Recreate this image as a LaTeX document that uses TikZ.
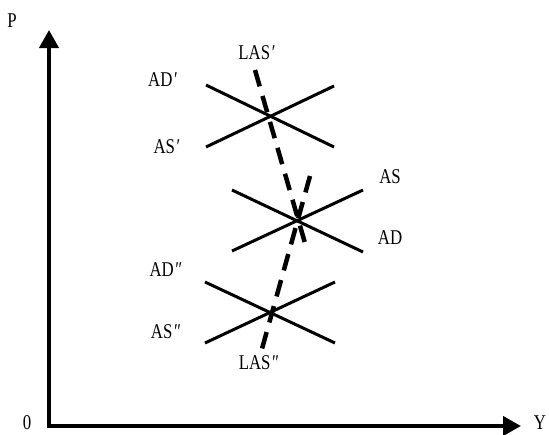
\documentclass[tikz,border=0pt]{standalone}
\usepackage{fontspec}
\setmainfont[FakeStretch=0.8]{Liberation Serif}
\usetikzlibrary{arrows.meta}
\tikzset{
  axis/.style={line width=4pt, line join=miter, -{Triangle[length=18pt,width=19pt]}},
  curve/.style={line width=3pt},
  shift curve/.style={line width=4.5pt, dash pattern=on 17pt off 10pt},
  lbl/.style={font=\fontsize{21}{21}\selectfont, inner sep=0pt, anchor=center},
}
\newcommand{\pr}{\kern0.08em′}
\newcommand{\dpr}{\kern0.08em″}
\begin{document}
\begin{tikzpicture}[x=1pt, y=-1pt]
  \useasboundingbox (0,0) rectangle (549,434);

  % axes
  \coordinate (O) at (49,426);
  \coordinate (Ptop) at (49,30);
  \coordinate (Yend) at (521,426);
  \draw[axis] (O) -- (Ptop);
  \draw[axis] (O) -- (Yend);
  \fill (47,424) rectangle (51,428);
  \node[lbl] (lP) at (12,21) {P};
  \node[lbl] (lO) at (27,423) {0};
  \node[lbl] (lY) at (540,423) {Y};

  % upper equilibrium
  \coordinate (ad1a) at (206,85);  \coordinate (ad1b) at (334,147);
  \coordinate (as1a) at (206,147); \coordinate (as1b) at (334,86);
  \draw[curve] (ad1a) -- (ad1b);
  \draw[curve] (as1a) -- (as1b);
  \node[lbl] (lAD1) at (163,80) {AD\pr};
  \node[lbl] (lAS1) at (167,147) {AS\pr};

  % middle equilibrium
  \coordinate (ad0a) at (232,190); \coordinate (ad0b) at (363,252);
  \coordinate (as0a) at (232,251); \coordinate (as0b) at (363,190);
  \draw[curve] (ad0a) -- (ad0b);
  \draw[curve] (as0a) -- (as0b);
  \node[lbl] (lAS0) at (390,177) {AS};
  \node[lbl] (lAD0) at (390,238) {AD};

  % lower equilibrium
  \coordinate (ad2a) at (205,282); \coordinate (ad2b) at (335,343);
  \coordinate (as2a) at (205,343); \coordinate (as2b) at (335,282);
  \draw[curve] (ad2a) -- (ad2b);
  \draw[curve] (as2a) -- (as2b);
  \node[lbl] (lAD2) at (166,270) {AD\dpr};
  \node[lbl] (lAS2) at (166,332) {AS\dpr};

  % long-run supply shifts
  \coordinate (las1a) at (255,70);  \coordinate (las1b) at (307,250);
  \coordinate (las2a) at (310,176); \coordinate (las2b) at (260,356);
  \draw[shift curve] (las1a) -- (las1b);
  \draw[shift curve] (las2a) -- (las2b);
  \node[lbl] (lLAS1) at (257,53) {LAS\pr};
  \node[lbl] (lLAS2) at (259,363) {LAS\dpr};
\end{tikzpicture}
\end{document}
